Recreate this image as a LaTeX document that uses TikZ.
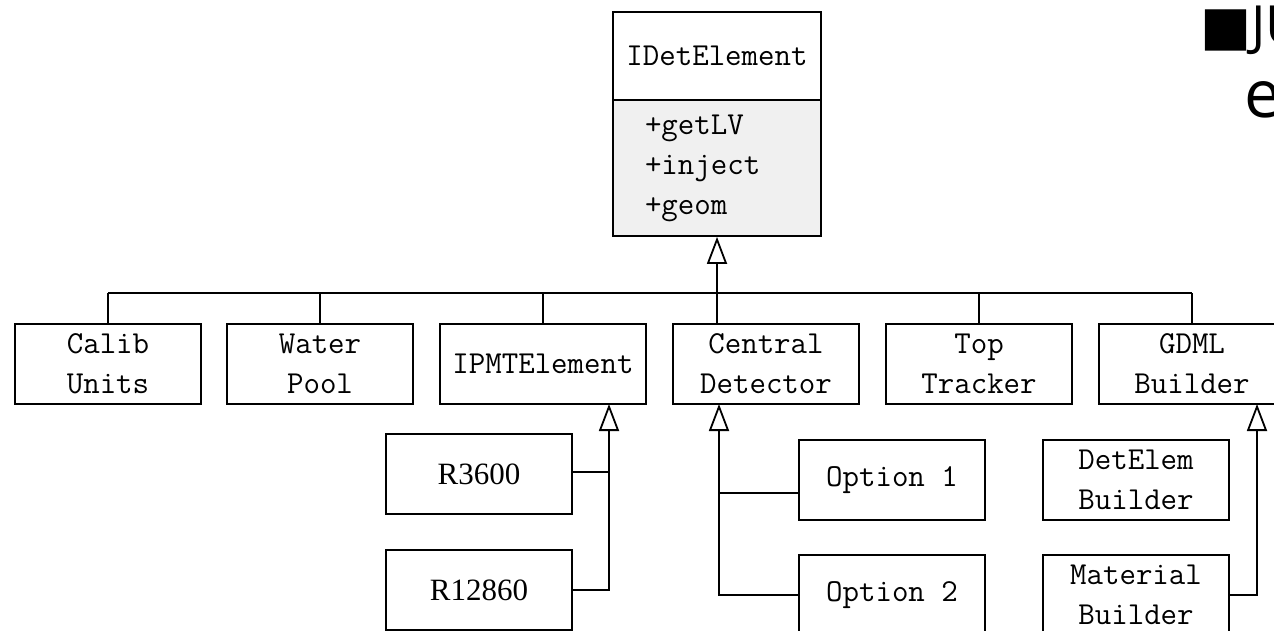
\documentclass[tikz,border=0pt]{standalone}
\usepackage{fontspec}
\newfontfamily\serifnum{Liberation Serif}
\newfontfamily\titlefont{Open Sans}
\newfontfamily\symfont{DejaVu Sans}
\usetikzlibrary{arrows.meta}
\definecolor{attrgray}{HTML}{F0F0F0}
\tikzset{
  cls/.style={draw, line width=1.8pt, minimum width=186pt, minimum height=80pt,
    inner sep=0pt, align=center, font=\ttfamily\fontsize{32}{40}\selectfont},
  numcls/.style={cls, font=\serifnum\fontsize{31}{40}\selectfont},
  link/.style={line width=1.8pt},
  inh/.style={line width=1.8pt, -{Triangle[open, length=27pt, width=20pt, line width=1.8pt]}},
}
\begin{document}
\begin{tikzpicture}[x=1pt, y=-1pt]
\useasboundingbox (0,0) rectangle (1274,631);
\clip (0,0) rectangle (1274,631);
% top class
\node[cls, fill=white, minimum width=208pt, minimum height=88pt] (idet) at (717,56) {IDetElement};
\node[cls, fill=attrgray, minimum width=208pt, minimum height=136pt, text width=144pt,
      inner xsep=32pt, align=left] (idetattr) at (717,168) {+getLV\\+inject\\+geom};
% first row
\node[cls] (calib) at (108,364) {Calib\\Units};
\node[cls] (water) at (320,364) {Water\\Pool};
\node[cls, minimum width=206pt] (ipmt) at (543,364) {IPMTElement};
\node[cls] (central) at (766,364) {Central\\Detector};
\node[cls] (top) at (979,364) {Top\\Tracker};
\node[cls] (gdml) at (1192,364) {GDML\\Builder};
% second level
\node[numcls] (r3600) at (479,474) {R3600};
\node[numcls] (r12860) at (479,590) {R12860};
\node[cls] (opt1) at (892,480) {Option 1};
\node[cls] (opt2) at (892,595) {Option 2};
\node[cls] (detelem) at (1136,480) {DetElem\\Builder};
\node[cls] (material) at (1136,595) {Material\\Builder};
% bus
\coordinate (bus) at (0,293);
\draw[link] (calib.north |- bus) -- (gdml.north |- bus);
\draw[inh] (idetattr.south |- central.north) -- (idetattr.south);
\foreach \n in {calib, water, ipmt, top, gdml} \draw[link] (\n.north) -- (\n.north |- bus);
% IPMT children
\coordinate (ipmtin) at (609,404);
\draw[inh] (r12860.east) -| (ipmtin);
\draw[link] ([yshift=2pt]r3600.east) -- ([yshift=2pt]r3600.east -| ipmtin);
% Central children
\coordinate (cdin) at (719,404);
\draw[inh] (opt2.west) -| (cdin);
\draw[link] ([yshift=-13pt]opt1.west) -- ([yshift=-13pt]opt1.west -| cdin);
% GDML children
\coordinate (gdin) at (1257,404);
\draw[inh] (material.east) -| (gdin);
% title fragment
\node[anchor=base west, inner sep=0pt, font=\fontsize{54}{60}\selectfont] (title1) at (1200,45) {{\symfont ■}{\titlefont JU}};
\node[anchor=base west, inner sep=0pt, font=\titlefont\fontsize{66}{70}\selectfont] (title2) at (1244,118) {e};
\end{tikzpicture}
\end{document}
